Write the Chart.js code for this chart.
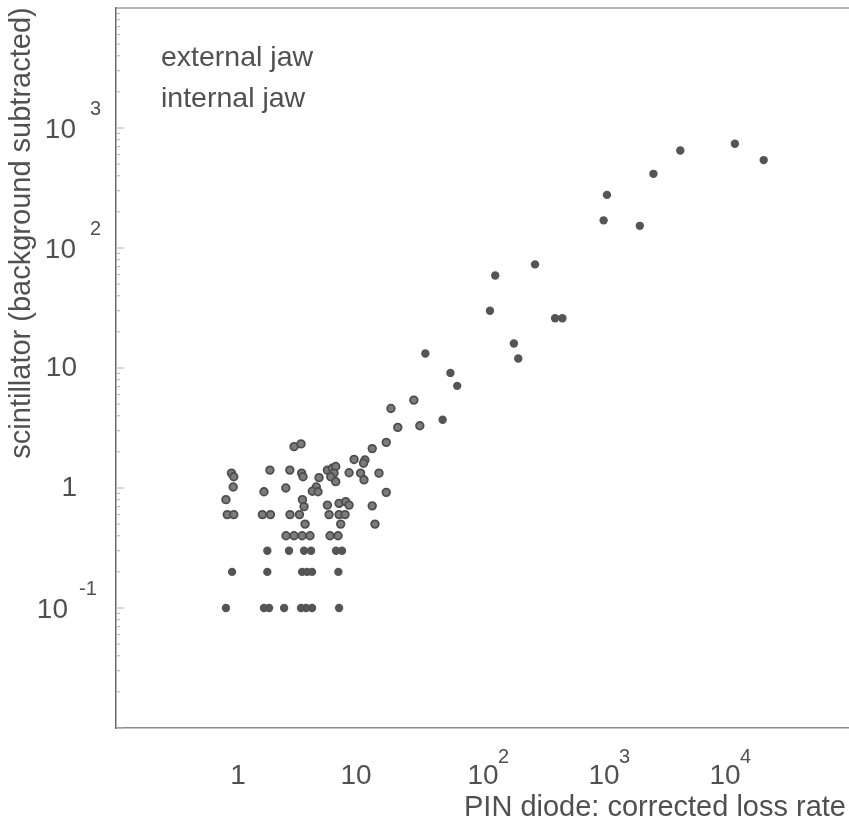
<!DOCTYPE html>
<html>
<head>
<meta charset="utf-8">
<script src="https://cdn.jsdelivr.net/npm/chart.js@4.4.1/dist/chart.umd.min.js"></script>
<style>
  html, body { margin: 0; padding: 0; background: #fff; overflow: hidden; }
  #wrap { width: 849px; height: 823px; position: relative; }
</style>
</head>
<body>
<div id="wrap"><canvas id="chart" width="849" height="823"></canvas></div>
<script>
// PIN diode loss rate (x) vs scintillator signal (y)
const externalX = [13000, 4600, 22500, 2760, 1140, 1070, 2130, 290, 136, 123, 425, 488, 194, 211, 36, 58, 66, 50,
  1.78, 2.69, 3.58, 4.09, 6.58, 7.37,
  0.91, 1.78, 3.45, 3.79, 4.17, 6.88,
  0.81, 1.67, 1.84, 2.45, 3.38, 3.72, 4.17, 6.97];
const externalY = [740, 650, 540, 415, 277, 170, 153, 73, 59, 30, 26, 26, 16, 12, 13.2, 9.1, 7.1, 3.7,
  0.3, 0.3, 0.3, 0.3, 0.3, 0.3,
  0.2, 0.2, 0.2, 0.2, 0.2, 0.2,
  0.1, 0.1, 0.1, 0.1, 0.1, 0.1, 0.1, 0.1];

const internalX = [28.9, 18.7, 21.3, 32.4, 17.1, 13.1, 9.27, 11.4, 11.1,
  2.96, 3.38, 1.87, 2.73, 3.42, 3.51, 0.9, 0.94, 0.93, 0.81, 0.83, 0.94,
  1.67, 2.53, 1.62, 1.89, 2.74, 3.28, 4.52, 4.19, 4.67, 3.47, 3.58,
  5.58, 6.13, 6.54, 6.33, 5.95, 6.54, 4.76, 8.43, 10.5, 11.2, 14.9, 17.1, 13.1,
  5.58, 6.97, 7.91, 8.43, 5.76, 6.97, 7.81, 3.65, 7.19, 13.8,
  2.54, 2.96, 3.45, 4.01, 5.87, 6.84];
const internalY = [5.4, 4.6, 3.2, 3.3, 2.4, 2.13, 1.73, 1.71, 1.61,
  2.21, 2.33, 1.41, 1.41, 1.33, 1.24, 1.33, 1.24, 1.02, 0.8, 0.6, 0.6,
  0.93, 1.0, 0.6, 0.6, 0.6, 0.6, 1.02, 0.94, 0.93, 0.8, 0.7,
  1.41, 1.46, 1.51, 1.33, 1.24, 1.13, 1.22, 1.34, 1.33, 1.17, 1.33, 0.92, 0.71,
  0.72, 0.745, 0.77, 0.72, 0.6, 0.6, 0.6, 0.5, 0.5, 0.5,
  0.4, 0.4, 0.4, 0.4, 0.4, 0.4];

const xTicks = [1, 10, 100, 1000, 10000];
const yTicks = [0.1, 1, 10, 100, 1000];
const seriesNames = ["external jaw", "internal jaw"];

const ink = "#505050";
const font = "'Liberation Sans', Arial, sans-serif";

function toPoints(xs, ys) {
  return xs.map((x, i) => ({ x: x, y: ys[i] }));
}

function expOf(v) {
  return Math.round(Math.log10(v));
}

const labelsPlugin = {
  id: "labels",
  afterDraw(chart) {
    const { ctx, chartArea, scales } = chart;
    ctx.save();
    ctx.fillStyle = ink;

    // top frame line
    ctx.strokeStyle = "#9a9a9a";
    ctx.lineWidth = 1.5;
    ctx.beginPath();
    ctx.moveTo(chartArea.left, chartArea.top);
    ctx.lineTo(chartArea.right, chartArea.top);
    ctx.stroke();

    // faint minor ticks on the left axis
    ctx.strokeStyle = "#b0b0b0";
    ctx.lineWidth = 1;
    for (let d = -2; d < 4; d++) {
      for (let m = 1; m < 10; m++) {
        const py = scales.y.getPixelForValue(m * Math.pow(10, d));
        const len = m === 1 ? 8 : 4;
        ctx.beginPath();
        ctx.moveTo(chartArea.left, py);
        ctx.lineTo(chartArea.left + len, py);
        ctx.stroke();
      }
    }

    // y tick labels
    yTicks.forEach((v) => {
      const py = scales.y.getPixelForValue(v);
      const e = expOf(v);
      ctx.textBaseline = "middle";
      if (e === 0 || e === 1) {
        ctx.font = "28px " + font;
        ctx.textAlign = "right";
        ctx.fillText(String(v), 77, py);
      } else {
        const right = e < 0 ? 68 : 76;
        ctx.font = "28px " + font;
        ctx.textAlign = "right";
        ctx.fillText("10", right, py + 2);
        ctx.font = "20px " + font;
        ctx.textAlign = "left";
        ctx.fillText(String(e), right + (e < 0 ? 11 : 14), py - 19);
      }
    });

    // x tick labels
    xTicks.forEach((v) => {
      const px = scales.x.getPixelForValue(v);
      const e = expOf(v);
      const py = 776;
      ctx.textBaseline = "middle";
      if (e === 0 || e === 1) {
        ctx.font = "28px " + font;
        ctx.textAlign = "center";
        ctx.fillText(String(v), px + (e === 1 ? -2 : 1), py);
      } else {
        ctx.font = "28px " + font;
        ctx.textAlign = "center";
        ctx.fillText("10", px + 4, py);
        ctx.font = "20px " + font;
        ctx.textAlign = "left";
        ctx.fillText(String(e), px + 19, py - 19);
      }
    });

    // axis titles
    ctx.font = "29px " + font;
    ctx.textAlign = "right";
    ctx.textBaseline = "alphabetic";
    ctx.fillText("PIN diode: corrected loss rate", 846, 816);

    ctx.save();
    ctx.translate(30, 233);
    ctx.rotate(-Math.PI / 2);
    ctx.textAlign = "center";
    ctx.fillText("scintillator (background subtracted)", 0, 0);
    ctx.restore();

    // legend text
    ctx.font = "28.5px " + font;
    ctx.textAlign = "left";
    ctx.fillText(seriesNames[0], 161, 66);
    ctx.fillText(seriesNames[1], 161, 107);

    ctx.restore();
  }
};

new Chart(document.getElementById("chart"), {
  type: "scatter",
  data: {
    datasets: [
      {
        label: seriesNames[0],
        data: toPoints(externalX, externalY),
        pointRadius: 4.2,
        pointBackgroundColor: "#555555",
        pointBorderColor: "#555555",
        pointBorderWidth: 0
      },
      {
        label: seriesNames[1],
        data: toPoints(internalX, internalY),
        pointRadius: 3.8,
        pointBackgroundColor: "#7c7c7c",
        pointBorderColor: "#4e4e4e",
        pointBorderWidth: 1.8
      }
    ]
  },
  options: {
    responsive: false,
    animation: false,
    layout: { autoPadding: false, padding: { top: 8, right: 0, left: 0, bottom: 0 } },
    plugins: { legend: { display: false }, tooltip: { enabled: false } },
    scales: {
      x: {
        type: "logarithmic",
        min: 0.1,
        max: 114000,
        ticks: { display: false },
        grid: { display: false },
        border: { display: true, color: "#8a8a8a", width: 1.5 },
        afterFit(scale) {
          scale.height = 95;
          scale.paddingLeft = 0;
          scale.paddingRight = 0;
        }
      },
      y: {
        type: "logarithmic",
        min: 0.01,
        max: 10000,
        ticks: { display: false },
        grid: { display: false },
        border: { display: true, color: "#6a6a6a", width: 1.5 },
        afterFit(scale) {
          scale.width = 116;
          scale.paddingTop = 0;
          scale.paddingBottom = 0;
        }
      }
    }
  },
  plugins: [labelsPlugin]
});
</script>
</body>
</html>
